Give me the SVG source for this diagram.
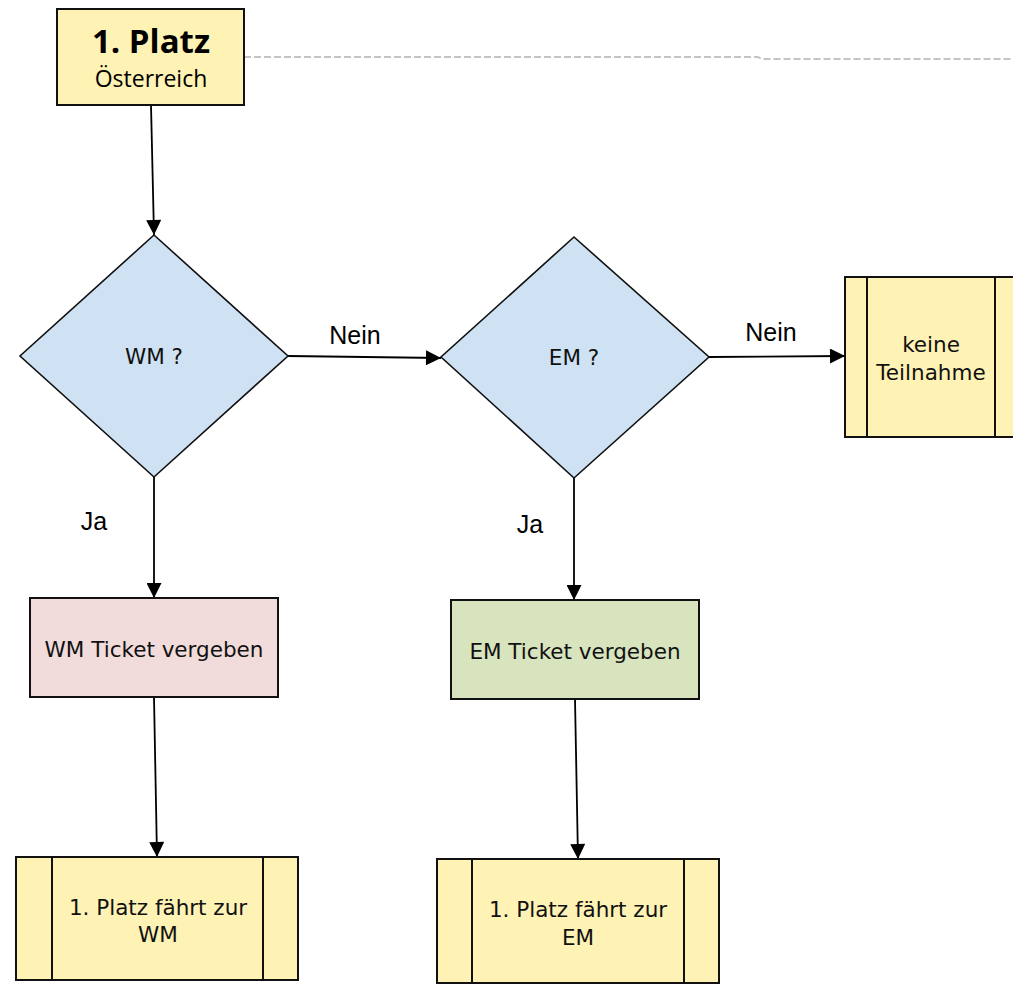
<svg xmlns="http://www.w3.org/2000/svg" width="1013" height="986" viewBox="0 0 1013 986">
<style>
.box{stroke:#111;stroke-width:2}
.yel{fill:#FFF2B5}
.dia{fill:#CFE2F3;stroke:#111;stroke-width:1.6}
.t{font-family:"DejaVu Sans",sans-serif;font-size:21.5px;fill:#111;text-anchor:middle}
.lbl{font-family:"Liberation Sans",Arial,sans-serif;font-size:25px;fill:#000;text-anchor:middle}
.con{stroke:#000;stroke-width:1.8;fill:none}
.inner{stroke:#111;stroke-width:2}
</style>
<defs>
<marker id="ah" viewBox="0 0 10 10" refX="10" refY="5" markerWidth="16" markerHeight="15" markerUnits="userSpaceOnUse" orient="auto">
<path d="M0,0 L10,5 L0,10 Z" fill="#000"/>
</marker>
</defs>
<rect width="1013" height="986" fill="#fff"/>
<g id="connectors">
<polyline points="244,57 758,57 762,59 1013,59" fill="none" stroke="#C4C4C4" stroke-width="2" stroke-dasharray="7,3"/>
<line class="con" x1="151" y1="105" x2="154" y2="235" marker-end="url(#ah)"/>
<line class="con" x1="288" y1="356" x2="441" y2="358" marker-end="url(#ah)"/>
<line class="con" x1="709" y1="357" x2="845" y2="356" marker-end="url(#ah)"/>
<line class="con" x1="154" y1="477" x2="154" y2="598" marker-end="url(#ah)"/>
<line class="con" x1="574" y1="478" x2="574" y2="600" marker-end="url(#ah)"/>
<line class="con" x1="154" y1="697" x2="157" y2="857" marker-end="url(#ah)"/>
<line class="con" x1="575" y1="699" x2="578" y2="859" marker-end="url(#ah)"/>
<text class="lbl" x="355" y="344">Nein</text>
<text class="lbl" x="771" y="341">Nein</text>
<text class="lbl" x="94" y="530">Ja</text>
<text class="lbl" x="530" y="533">Ja</text>
</g>
<g id="start">
<rect class="box yel" x="57" y="9" width="187" height="96"/>
<text x="151" y="53" text-anchor="middle" font-family="'Open Sans',sans-serif" font-weight="bold" font-size="33" fill="#000">1. Platz</text>
<text x="151" y="87" text-anchor="middle" font-family="'Open Sans',sans-serif" font-size="23" fill="#000">Österreich</text>
</g>
<g id="wm">
<polygon class="dia" points="154,235 288,356 154,477 20,356"/>
<text class="t" x="154" y="364">WM ?</text>
</g>
<g id="em">
<polygon class="dia" points="574,237 709,357 574,478 441,357"/>
<text class="t" x="574" y="365">EM ?</text>
</g>
<g id="keine">
<rect class="box yel" x="845" y="277" width="172" height="160"/>
<line class="inner" x1="867" y1="277" x2="867" y2="437"/>
<line class="inner" x1="995" y1="277" x2="995" y2="437"/>
<text class="t" x="931" y="352">keine</text>
<text class="t" x="931" y="380">Teilnahme</text>
</g>
<g id="wmticket">
<rect class="box" x="30" y="598" width="248" height="99" fill="#F2DCDB"/>
<text class="t" x="154" y="657">WM Ticket vergeben</text>
</g>
<g id="emticket">
<rect class="box" x="451" y="600" width="248" height="99" fill="#D7E4BD"/>
<text class="t" x="575" y="659">EM Ticket vergeben</text>
</g>
<g id="wmfahrt">
<rect class="box yel" x="16" y="857" width="282" height="123"/>
<line class="inner" x1="52" y1="857" x2="52" y2="980"/>
<line class="inner" x1="263" y1="857" x2="263" y2="980"/>
<text class="t" x="158" y="915">1. Platz fährt zur</text>
<text class="t" x="158" y="942">WM</text>
</g>
<g id="emfahrt">
<rect class="box yel" x="437" y="859" width="282" height="124"/>
<line class="inner" x1="472" y1="859" x2="472" y2="983"/>
<line class="inner" x1="684" y1="859" x2="684" y2="983"/>
<text class="t" x="578" y="917">1. Platz fährt zur</text>
<text class="t" x="578" y="945">EM</text>
</g>
</svg>
